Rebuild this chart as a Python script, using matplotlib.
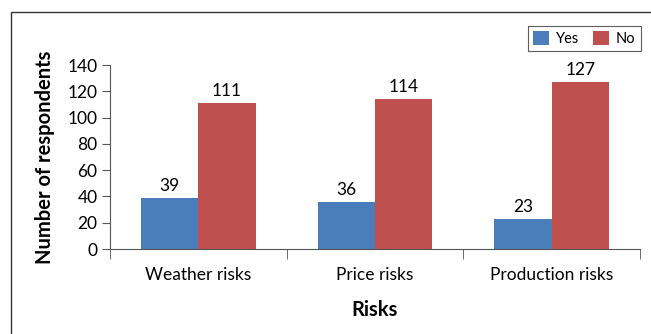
import numpy as np
import matplotlib.pyplot as plt
from matplotlib.patches import Rectangle

plt.rcParams['font.family'] = ['Lato', 'DejaVu Sans']

risks = ['Weather risks', 'Price risks', 'Production risks']
yes_counts = [39, 36, 23]
no_counts = [111, 114, 127]

fig = plt.figure(figsize=(6.51, 3.34), dpi=100)
# outer frame around the whole figure
fig.patches.append(Rectangle((11 / 651, -0.05), 1.0, 1 - 12 / 334 + 0.05,
                             transform=fig.transFigure, fill=False,
                             edgecolor='#333333', linewidth=1.0))

ax = fig.add_axes([110 / 651, 1 - 249 / 334, 530 / 651, 184 / 334])
x = np.arange(len(risks))
w = 0.325
b1 = ax.bar(x - w / 2, yes_counts, w, color='#4A7EBB', label='Yes')
b2 = ax.bar(x + w / 2, no_counts, w, color='#C0504D', label='No')

for bars, vals in ((b1, yes_counts), (b2, no_counts)):
    for bar, v in zip(bars, vals):
        ax.text(bar.get_x() + bar.get_width() / 2, v + 3, str(v),
                ha='center', va='bottom', fontsize=12.5)

ax.set_xlim(-0.5, 2.5)
ax.set_ylim(0, 140)
ax.set_yticks(range(0, 141, 20))
ax.set_xticks(x)
ax.set_xticklabels(risks, fontsize=12.5)
ax.set_xticks([-0.5, 0.5, 1.5, 2.5], minor=True)
ax.tick_params(axis='x', which='major', length=0, pad=13)
ax.tick_params(axis='x', which='minor', length=7, direction='out', color='#555555')
ax.tick_params(axis='y', labelsize=12.5, length=6, color='#555555', pad=3)
for s in ('top', 'right'):
    ax.spines[s].set_visible(False)
for s in ('left', 'bottom'):
    ax.spines[s].set_color('#555555')

ax.set_ylabel('Number of respondents', fontsize=14.5, fontweight='bold', labelpad=9)
ax.set_xlabel('Risks', fontsize=14.5, fontweight='bold', labelpad=12)

leg = fig.legend(handles=[b1, b2], loc='upper right', ncol=2,
                 bbox_to_anchor=(648 / 651, 1 - 19 / 334), fontsize=10.5,
                 frameon=True, fancybox=False, edgecolor='#333333',
                 handlelength=1.1, handleheight=1.1, columnspacing=0.9,
                 handletextpad=0.5, borderpad=0.35)
leg.get_frame().set_linewidth(0.8)

fig.savefig('out.png', dpi=100)
